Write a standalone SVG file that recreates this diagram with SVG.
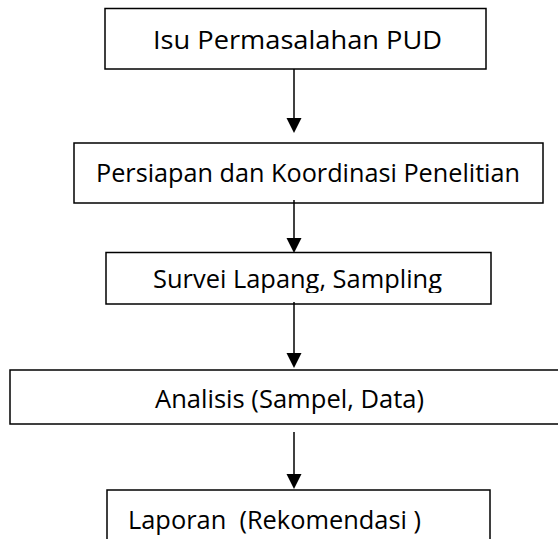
<svg xmlns="http://www.w3.org/2000/svg" width="558" height="539" viewBox="0 0 558 539">
  <style>
    .box { fill: #ffffff; stroke: #000000; stroke-width: 1.5; }
    .lbl { font-family: "Open Sans", "Noto Sans", "Liberation Sans", sans-serif; font-size: 26px; fill: #000000; }
    .conn { stroke: #000000; stroke-width: 1.5; fill: none; }
    .head { fill: #000000; stroke: none; }
  </style>
  <defs>
    <clipPath id="clip3">
      <rect x="100" y="250" width="400" height="43"/>
    </clipPath>
  </defs>
  <rect width="558" height="539" fill="#ffffff"/>

  <g id="node-isu">
    <rect class="box" x="105" y="8.5" width="381" height="60.5"/>
    <text class="lbl" x="153" y="49" textLength="289" lengthAdjust="spacingAndGlyphs">Isu Permasalahan PUD</text>
  </g>

  <g id="node-persiapan">
    <rect class="box" x="74" y="143" width="469" height="60"/>
    <text class="lbl" x="96" y="182" textLength="424" lengthAdjust="spacingAndGlyphs">Persiapan dan Koordinasi Penelitian</text>
  </g>

  <g id="node-survei">
    <rect class="box" x="106" y="252.5" width="385" height="51.5"/>
    <text class="lbl" x="153" y="288" textLength="289" lengthAdjust="spacingAndGlyphs" clip-path="url(#clip3)">Survei Lapang, Sampling</text>
  </g>

  <g id="node-analisis">
    <rect class="box" x="10" y="370" width="560" height="54"/>
    <text class="lbl" x="155" y="408" textLength="269" lengthAdjust="spacingAndGlyphs">Analisis (Sampel, Data)</text>
  </g>

  <g id="node-laporan">
    <rect class="box" x="107" y="490" width="383" height="60"/>
    <text class="lbl" x="128" y="529" textLength="293" lengthAdjust="spacingAndGlyphs" xml:space="preserve">Laporan  (Rekomendasi )</text>
  </g>

  <g id="connectors">
    <line class="conn" x1="294" y1="69" x2="294" y2="119"/>
    <polygon class="head" points="286.5,118 301.5,118 294,133"/>
    <line class="conn" x1="294" y1="200" x2="294" y2="239"/>
    <polygon class="head" points="286.5,238 301.5,238 294,253"/>
    <line class="conn" x1="294" y1="302" x2="294" y2="354"/>
    <polygon class="head" points="286.5,353 301.5,353 294,368"/>
    <line class="conn" x1="294" y1="432" x2="294" y2="475"/>
    <polygon class="head" points="286.5,474 301.5,474 294,489"/>
  </g>
</svg>
